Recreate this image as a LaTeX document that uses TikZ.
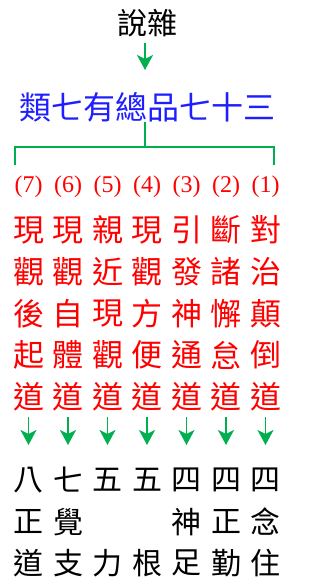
\documentclass[tikz,border=0pt]{standalone}
\usepackage{fontspec}
\setmainfont{Liberation Serif}
\newfontfamily\cjk{Noto Sans CJK TC}
\usetikzlibrary{arrows.meta}
\definecolor{grn}{RGB}{0,176,80}
\definecolor{rd}{RGB}{255,0,0}
\definecolor{bl}{RGB}{30,30,255}
\tikzset{
  ch/.style={inner sep=0pt, anchor=center, font=\cjk\fontsize{30}{30}\selectfont},
  redch/.style={ch, text=rd, font=\cjk\fontsize{31}{31}\selectfont},
  blkch/.style={ch, text=black},
  numtxt/.style={inner sep=0pt, anchor=center, text=rd, font=\fontsize{24}{24}\selectfont},
  arr/.style={draw=grn, line width=1.8pt, -{Stealth[length=15pt,width=16pt,inset=4pt]}},
  brk/.style={draw=grn, line width=2pt}
}
\begin{document}
\begin{tikzpicture}[x=1pt,y=1pt]
\useasboundingbox (0,0) rectangle (326,-585);
\node[ch] (title) at (147.5,-23.5) {說雜};
\node[ch, text=bl, font=\cjk\fontsize{32}{32}\selectfont] (cls) at (147.5,-107) {類七有總品七十三};
\coordinate (ta) at (145,-23.5);
\coordinate (ca) at (145,-107);
\draw[arr, shorten <=19.5pt, shorten >=37pt] (ta) -- (ca);
\coordinate (bM) at (145,-147);
\coordinate (bL) at (15,-165);
\coordinate (bR) at (274,-165);
\draw[brk] (bL) |- (bM) -| (bR);
\draw[brk, shorten <=15pt] (ca) -- (bM);
\foreach \i/\n/\a/\b/\c/\d/\e/\f/\g/\h in {
 0/7/現/觀/後/起/道/八/正/道,
 1/6/現/觀/自/體/道/七/覺/支,
 2/5/親/近/現/觀/道/五//力,
 3/4/現/觀/方/便/道/五//根,
 4/3/引/發/神/通/道/四/神/足,
 5/2/斷/諸/懈/怠/道/四/正/勤,
 6/1/對/治/顛/倒/道/四/念/住}{
  \pgfmathsetmacro\xx{28.5+39.5*\i}
  \node[numtxt] (n\i) at (\xx,-187) {(\n)};
  \node[redch] (r\i1) at (\xx,-230) {\a};
  \node[redch] (r\i2) at (\xx,-272) {\b};
  \node[redch] (r\i3) at (\xx,-313.5) {\c};
  \node[redch] (r\i4) at (\xx,-355) {\d};
  \node[redch] (r\i5) at (\xx,-397) {\e};
  \node[blkch] (b\i1) at (\xx,-480) {\f};
  \node[blkch] (b\i2) at (\xx,-522) {\g};
  \node[blkch] (b\i3) at (\xx,-563) {\h};
  \draw[arr, shorten <=20pt, shorten >=35pt] (r\i5.center) -- (b\i1.center);
}
\end{tikzpicture}
\end{document}
